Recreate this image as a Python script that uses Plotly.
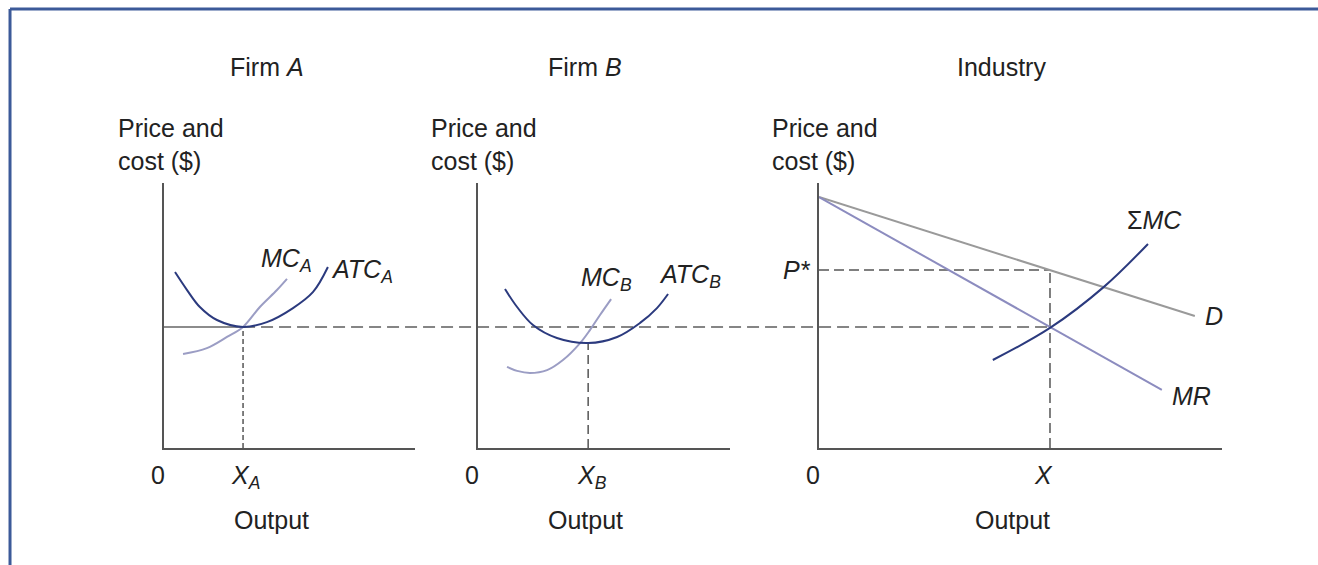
# Firm A, Firm B and industry cost curves
import plotly.graph_objects as go

# data (output units, price units)
atc_a_x = [0.44, 0.92, 1.43, 2.11, 3.15, 4.10, 5.14, 5.94, 6.53]
atc_a_y = [6.64, 5.96, 5.32, 4.83, 4.57, 4.75, 5.28, 5.89, 6.83]
mc_a_x = [0.76, 1.71, 2.51, 3.15, 3.82, 4.50, 4.90]
mc_a_y = [3.55, 3.77, 4.19, 4.57, 5.32, 5.96, 6.38]

atc_b_x = [1.07, 1.55, 2.18, 3.13, 4.37, 5.52, 6.43, 7.10, 7.54]
atc_b_y = [6.00, 5.32, 4.64, 4.15, 3.96, 4.19, 4.72, 5.28, 5.81]
mc_b_x = [1.15, 1.55, 2.06, 2.74, 3.37, 4.05, 4.44, 4.84, 5.28]
mc_b_y = [3.06, 2.91, 2.83, 2.94, 3.32, 3.96, 4.45, 5.02, 5.62]

d_x = [0, 14.92]
d_y = [9.47, 4.98]
mr_x = [0, 13.61]
mr_y = [9.47, 2.19]
smc_x = [6.90, 9.17, 11.31, 13.06]
smc_y = [3.32, 4.53, 6.08, 7.70]

x_a = 3.15
x_b = 4.37
x_ind = 9.17
level = 4.57      # min ATC of firm A = industry MR = MC
atc_b_min = 3.96
p_star = 6.72

NAVY = '#2b3a7e'
LAV = '#9b9dc4'
GREY = '#9a9a9a'
MRC = '#8c8cbf'
AXC = '#555555'
DASH = '#555555'
FONT = 'Liberation Sans, Arial, sans-serif'
FS = 25

dom_a = [0.1244, 0.3149]
dom_b = [0.3627, 0.5539]
dom_i = [0.6214, 0.9272]
dom_y = [0.2071, 0.6761]
rng_a = [0, 10]
rng_b = [0, 10]
rng_i = [0, 16]


def to_paper(dom, rng, v):
    return dom[0] + (v - rng[0]) / (rng[1] - rng[0]) * (dom[1] - dom[0])


fig = go.Figure()


def line(x, y, color, xa, ya, width=2, dash='solid', shape='spline'):
    fig.add_trace(go.Scatter(x=x, y=y, mode='lines', xaxis=xa, yaxis=ya,
                             line=dict(color=color, width=width, dash=dash, shape=shape,
                                       smoothing=1.0),
                             hoverinfo='skip'))


# firm A
line([0, x_a], [level, level], '#666666', 'x', 'y', width=1.5, shape='linear')
line([x_a, x_a], [0, level], DASH, 'x', 'y', width=1.5, dash='5px,3px', shape='linear')
line(mc_a_x, mc_a_y, LAV, 'x', 'y')
line(atc_a_x, atc_a_y, NAVY, 'x', 'y')

# firm B
line([x_b, x_b], [0, atc_b_min], DASH, 'x2', 'y2', width=1.5, dash='9px,5px', shape='linear')
line(mc_b_x, mc_b_y, LAV, 'x2', 'y2')
line(atc_b_x, atc_b_y, NAVY, 'x2', 'y2')

# industry
line([0, x_ind], [p_star, p_star], DASH, 'x3', 'y3', width=1.5, dash='10px,5px', shape='linear')
line([x_ind, x_ind], [0, p_star], DASH, 'x3', 'y3', width=1.5, dash='10px,5px', shape='linear')
line(d_x, d_y, GREY, 'x3', 'y3', shape='linear')
line(mr_x, mr_y, MRC, 'x3', 'y3', shape='linear')
line(smc_x, smc_y, NAVY, 'x3', 'y3')

# long dashed line linking the three panels
shapes = [
    dict(type='line', xref='paper', yref='y',
         x0=to_paper(dom_a, rng_a, x_a), x1=to_paper(dom_i, rng_i, x_ind),
         y0=level, y1=level, line=dict(color='#5e5e5e', width=1.5, dash='12px,6px'), layer='below'),
    # frame
    dict(type='line', xref='paper', yref='paper', x0=0.0076, x1=1, y0=0.984, y1=0.984,
         line=dict(color='#3c5a99', width=3)),
    dict(type='line', xref='paper', yref='paper', x0=0.0076, x1=0.0076, y0=0, y1=0.984,
         line=dict(color='#3c5a99', width=3)),
]

ax = dict(showline=True, linecolor=AXC, linewidth=1.5, showgrid=False, zeroline=False,
          showticklabels=False, ticks='', fixedrange=True)

fig.update_layout(
    width=1318, height=565,
    margin=dict(l=0, r=0, t=0, b=0),
    paper_bgcolor='white', plot_bgcolor='white',
    showlegend=False,
    font=dict(family=FONT, size=FS, color='#222222'),
    xaxis=dict(ax, domain=dom_a, range=rng_a, anchor='y'),
    yaxis=dict(ax, domain=dom_y, range=[0, 10], anchor='x'),
    xaxis2=dict(ax, domain=dom_b, range=rng_b, anchor='y2'),
    yaxis2=dict(ax, domain=dom_y, range=[0, 10], anchor='x2'),
    xaxis3=dict(ax, domain=dom_i, range=rng_i, anchor='y3'),
    yaxis3=dict(ax, domain=dom_y, range=[0, 10], anchor='x3'),
    shapes=shapes,
)

ann = []


def text(s, x, y, xref='paper', yref='paper', xanchor='center', yanchor='middle',
         xshift=0, yshift=0, align='center', size=FS):
    ann.append(dict(text=s, x=x, y=y, xref=xref, yref=yref, xanchor=xanchor,
                    yanchor=yanchor, xshift=xshift, yshift=yshift, align=align,
                    showarrow=False, font=dict(family=FONT, size=size, color='#222222')))


# panel titles
text('Firm <i>A</i>', 267 / 1318, 1 - 67 / 565)
text('Firm <i>B</i>', 585 / 1318, 1 - 67 / 565)
text('Industry', 1001 / 1318, 1 - 67 / 565)

# y-axis titles
for xp in [116, 429, 770]:
    text('Price and<br>cost ($)', xp / 1318, 1 - 145 / 565, xanchor='left', align='left')

# x-axis titles
for xp in [271, 585, 1012]:
    text('Output', xp / 1318, 1 - 520 / 565)

# origin and quantity labels
for xr, yr in [('x', 'y'), ('x2', 'y2'), ('x3', 'y3')]:
    text('0', 0, 0, xref=xr, yref=yr, xshift=-6, yshift=-27)
text('<i>X</i><sub><i>A</i></sub>', x_a, 0, xref='x', yref='y', xshift=2, yshift=-29)
text('<i>X</i><sub><i>B</i></sub>', x_b, 0, xref='x2', yref='y2', xshift=4, yshift=-29)
text('<i>X</i>', x_ind, 0, xref='x3', yref='y3', xshift=-6, yshift=-27)
text('<i>P*</i>', 0, p_star, xref='x3', yref='y3', xanchor='right', xshift=-6)

# curve labels
text('<i>MC</i><sub><i>A</i></sub>', 4.9, 6.9, xref='x', yref='y', xshift=0, yshift=5)
text('<i>ATC</i><sub><i>A</i></sub>', 6.5, 6.83, xref='x', yref='y', xanchor='left', xshift=2, yshift=-4)
text('<i>MC</i><sub><i>B</i></sub>', 5.1, 5.62, xref='x2', yref='y2', yshift=20)
text('<i>ATC</i><sub><i>B</i></sub>', 8.4, 5.81, xref='x2', yref='y2', yshift=18)
text('Σ<i>MC</i>', 13.3, 7.70, xref='x3', yref='y3', yshift=24)
text('<i>D</i>', 14.92, 4.98, xref='x3', yref='y3', xanchor='left', xshift=8)
text('<i>MR</i>', 13.61, 2.19, xref='x3', yref='y3', xanchor='left', xshift=8, yshift=-6)

fig.update_layout(annotations=ann)

# the page's default body margin would shift the figure by 8px
fig.write_html("out.html", config={'displayModeBar': False},
               post_script="document.body.style.margin='0';")
